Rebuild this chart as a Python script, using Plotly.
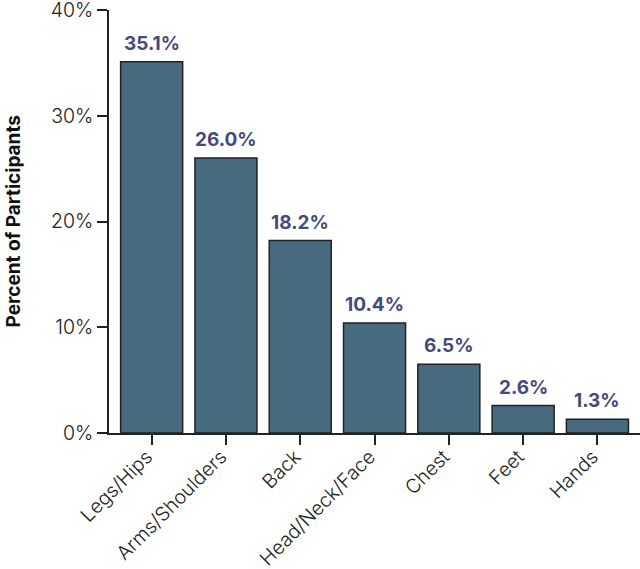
import plotly.graph_objects as go

categories = ["Legs/Hips", "Arms/Shoulders", "Back", "Head/Neck/Face", "Chest", "Feet", "Hands"]
percent = [35.1, 26.0, 18.2, 10.4, 6.5, 2.6, 1.3]
tick_vals = [0, 10, 20, 30, 40]
tick_text = ["0%", "10%", "20%", "30%", "40%"]

fig = go.Figure()

fig.add_trace(go.Bar(
    x=categories,
    y=percent,
    marker=dict(color="#476a7e", line=dict(color="#222222", width=1.5)),
    hoverinfo="x+y",
))

# value labels above each bar
for cat, val in zip(categories, percent):
    fig.add_annotation(
        x=cat, y=val,
        text=f"{val:.1f}%",
        showarrow=False,
        xanchor="center", yanchor="bottom",
        yshift=5,
        font=dict(family="Inter", size=19, color="#454a7c", weight="bold"),
    )

fig.update_layout(
    width=640,
    height=569,
    margin=dict(l=109, r=0, t=10, b=136, autoexpand=False),
    plot_bgcolor="white",
    paper_bgcolor="white",
    bargap=0.165,
    showlegend=False,
    font=dict(family="Inter", color="#222222"),
)

fig.update_xaxes(
    range=[-0.574, 6.573],
    automargin=False,
    showline=True,
    linecolor="#222222",
    linewidth=1.5,
    ticks="outside",
    ticklen=10,
    tickcolor="#222222",
    tickwidth=1.5,
    tickangle=-45,
    tickfont=dict(family="Inter", size=19.5, color="#222222", weight=300),
    ticklabeloverflow="allow",
    ticklabelshift=-5,
    ticklabelstandoff=-7,
    showgrid=False,
)

fig.update_yaxes(
    range=[0, 40],
    automargin=False,
    tickvals=tick_vals,
    ticktext=tick_text,
    showline=True,
    linecolor="#222222",
    linewidth=1.5,
    ticks="outside",
    ticklen=10,
    tickcolor="#222222",
    tickwidth=1.5,
    tickfont=dict(family="Inter", size=19.5, color="#222222", weight=300),
    ticklabeloverflow="allow",
    showgrid=False,
    zeroline=False,
)

fig.add_annotation(
    text="Percent of Participants",
    xref="paper", yref="paper",
    x=(13 - 109) / 531, y=0.5,
    xanchor="center", yanchor="middle",
    textangle=-90,
    showarrow=False,
    font=dict(family="Inter", size=19, color="#111111", weight="bold"),
)

# drop the default 8px page margin so the figure sits at the window corner
fig.write_html("out.html", config={"displayModeBar": False},
               post_script="document.body.style.margin='0';")
